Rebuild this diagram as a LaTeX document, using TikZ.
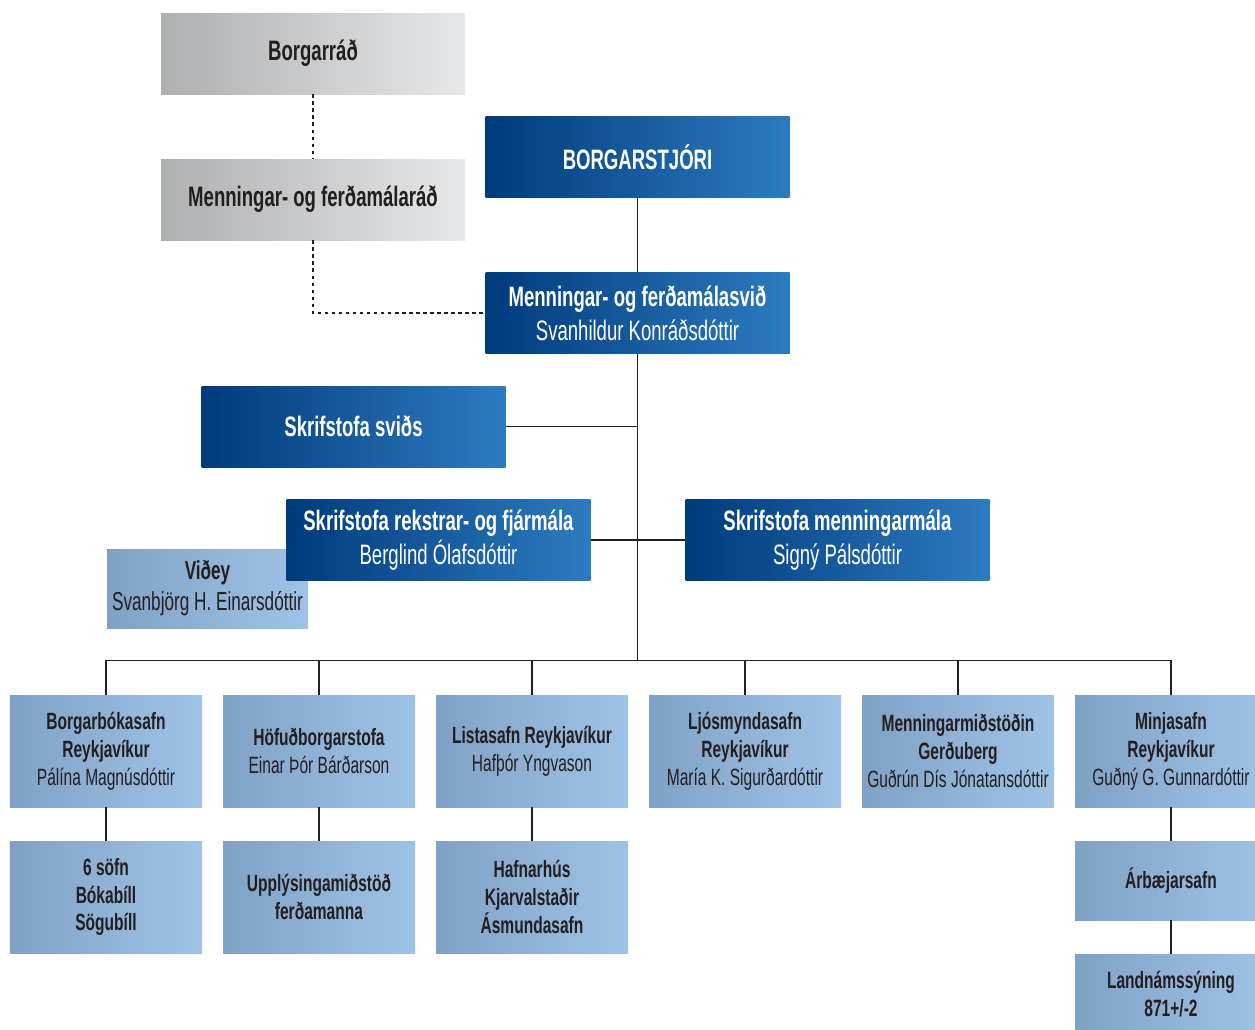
\documentclass[tikz,border=0pt]{standalone}
\usepackage{fontspec}
\setmainfont{Liberation Sans}[FakeStretch=0.66]
\usepackage{tikz}
\usetikzlibrary{positioning, calc}

\definecolor{grisG}{HTML}{AEAFB1}
\definecolor{grisD}{HTML}{E6E7E8}
\definecolor{bleuG}{HTML}{003B7C}
\definecolor{bleuD}{HTML}{2D7BC0}
\definecolor{clairG}{HTML}{7FA1C6}
\definecolor{clairD}{HTML}{9FC3E6}
\definecolor{texte}{HTML}{231F20}

\newcommand{\grandtexte}{\fontsize{16}{19.3}\selectfont}
\newcommand{\moyentexte}{\fontsize{14.8}{17.6}\selectfont}
\newcommand{\petittexte}{\fontsize{13.4}{15.9}\selectfont}

\tikzstyle{gris} = [
    rectangle,
    minimum width = 6.08cm,
    minimum height = 1.62cm,
    inner sep = 0pt,
    align = center,
    left color = grisG,
    right color = grisD,
    text = texte,
    font = \grandtexte,
]
\tikzstyle{fonce} = [
    rectangle,
    minimum width = 6.08cm,
    minimum height = 1.62cm,
    inner sep = 0pt,
    align = center,
    left color = bleuG,
    right color = bleuD,
    text = white,
    font = \grandtexte,
]
\tikzstyle{clair} = [
    rectangle,
    minimum width = 3.84cm,
    minimum height = 2.24cm,
    inner sep = 0pt,
    align = center,
    left color = clairG,
    right color = clairD,
    text = texte,
    font = \petittexte,
]
\tikzstyle{lien} = [line width = 0.8pt, draw = texte]
\tikzstyle{pointille} = [line width = 0.8pt, draw = texte, dash pattern = on 2pt off 2pt]

\begin{document}
\begin{tikzpicture} [node distance = 4.26cm]
    \useasboundingbox (0, 0) rectangle (25.1, -20.6);

    \node (Borgarrad) [gris] at (6.26, -1.07) {\textbf{Borgarráð}};
    \node (Nefnd) [gris, below of = Borgarrad, node distance = 2.92cm] {\textbf{Menningar- og ferðamálaráð}};

    \node (Borgarstjori) [fonce, right of = Borgarrad, node distance = 6.49cm, yshift = -2.07cm] {\textbf{BORGARSTJÓRI}};
    \node (Svid) [fonce, below of = Borgarstjori, node distance = 3.12cm] {\textbf{Menningar- og ferðamálasvið}\\Svanhildur Konráðsdóttir};

    \node (SkrSvids) [fonce, below of = Svid, node distance = 2.27cm, xshift = -5.68cm] {\textbf{Skrifstofa sviðs}};

    \node (Videy) [clair, minimum width = 4.02cm, minimum height = 1.58cm, font = \moyentexte, below of = SkrSvids, node distance = 3.24cm, xshift = -2.92cm] {\textbf{Viðey}\\Svanbjörg H. Einarsdóttir};
    \node (Rekstrar) [fonce, below of = Svid, node distance = 4.54cm, xshift = -3.98cm] {\textbf{Skrifstofa rekstrar- og fjármála}\\Berglind Ólafsdóttir};
    \node (Menning) [fonce, right of = Rekstrar, node distance = 7.98cm] {\textbf{Skrifstofa menningarmála}\\Signý Pálsdóttir};

    \node (Bokasafn) [clair] at (2.12, -15.02) {\textbf{Borgarbókasafn}\\\textbf{Reykjavíkur}\\Pálína Magnúsdóttir};
    \node (Hofud) [clair, right of = Bokasafn] {\textbf{Höfuðborgarstofa}\\Einar Þór Bárðarson};
    \node (Listasafn) [clair, right of = Hofud] {\textbf{Listasafn Reykjavíkur}\\Hafþór Yngvason};
    \node (Ljosmynd) [clair, right of = Listasafn] {\textbf{Ljósmyndasafn}\\\textbf{Reykjavíkur}\\María K. Sigurðardóttir};
    \node (Gerduberg) [clair, right of = Ljosmynd] {\textbf{Menningarmiðstöðin}\\\textbf{Gerðuberg}\\Guðrún Dís Jónatansdóttir};
    \node (Minjasafn) [clair, right of = Gerduberg] {\textbf{Minjasafn}\\\textbf{Reykjavíkur}\\Guðný G. Gunnardóttir};

    \node (Sofn) [clair, below of = Bokasafn, node distance = 2.92cm] {\textbf{6 söfn}\\\textbf{Bókabíll}\\\textbf{Sögubíll}};
    \node (Upplys) [clair, below of = Hofud, node distance = 2.92cm] {\textbf{Upplýsingamiðstöð}\\\textbf{ferðamanna}};
    \node (Hafnarhus) [clair, below of = Listasafn, node distance = 2.92cm] {\textbf{Hafnarhús}\\\textbf{Kjarvalstaðir}\\\textbf{Ásmundasafn}};
    \node (Arbae) [clair, minimum height = 1.58cm, below of = Minjasafn, node distance = 2.59cm] {\textbf{Árbæjarsafn}};
    \node (Landnam) [clair, minimum height = 1.6cm, below of = Arbae, node distance = 2.27cm] {\textbf{Landnámssýning}\\\textbf{871+/-2}};

    \coordinate (Bus) at ($(Svid |- Bokasafn.north) + (0, 0.68)$);

    \draw[pointille] (Borgarrad) -- (Nefnd);
    \draw[pointille] (Nefnd.south) |- (Svid.west);

    \draw[lien] (Borgarstjori) -- (Svid);
    \draw[lien] (Svid) -- (Bus);
    \draw[lien] (SkrSvids) -- (SkrSvids -| Svid);
    \draw[lien] (Rekstrar) -- (Menning);

    \draw[lien] (Bokasafn.north) |- (Bus) -| (Minjasafn.north);
    \foreach \bureau in {Hofud, Listasafn, Ljosmynd, Gerduberg}
        \draw[lien] (\bureau.north) -- (\bureau.north |- Bus);

    \draw[lien] (Bokasafn) -- (Sofn);
    \draw[lien] (Hofud) -- (Upplys);
    \draw[lien] (Listasafn) -- (Hafnarhus);
    \draw[lien] (Minjasafn) -- (Arbae);
    \draw[lien] (Arbae) -- (Landnam);
\end{tikzpicture}
\end{document}
